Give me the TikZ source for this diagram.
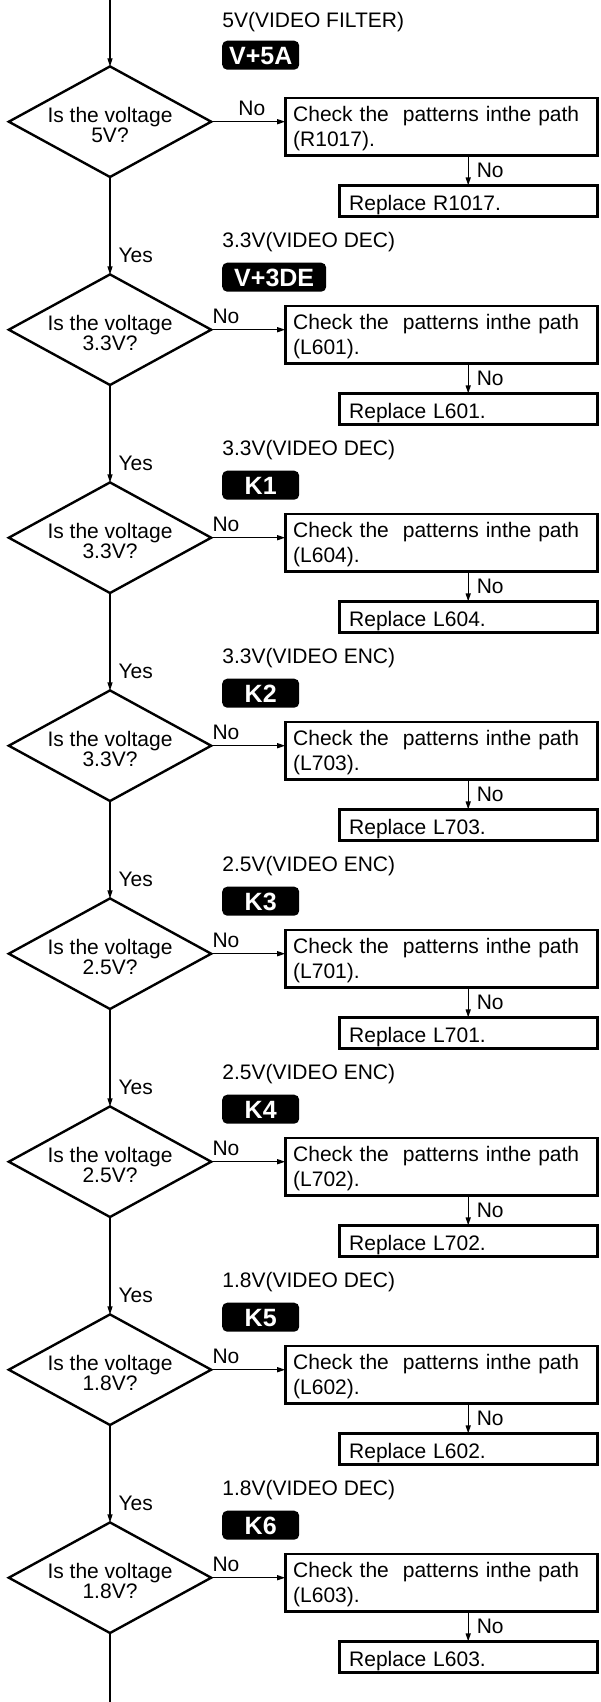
\documentclass[tikz,border=0pt]{standalone}
\usepackage{fontspec}
\setmainfont{Liberation Sans}
\usetikzlibrary{shapes.geometric, arrows.meta, positioning}

\begin{document}
\begin{tikzpicture}[
    x=1pt, y=1pt,
    node distance=97.4pt and 74pt,
    decision/.style={
      diamond,
      aspect=1.83,
      draw=black,
      line width=2.4pt,
      inner xsep=-10pt,
      inner ysep=0pt,
      outer sep=0pt,
      minimum width=202.4pt,
      minimum height=110.6pt,
      align=center,
      text height=42pt,
      font=\fontsize{21pt}{20pt}\selectfont
    },
    check/.style={
      rectangle,
      draw=black,
      line width=2.6pt,
      outer sep=0pt,
      inner xsep=8pt,
      inner ysep=4.3pt,
      text width=296pt,
      text height=18.7pt,
      minimum height=57.4pt,
      align=left,
      font=\fontsize{21pt}{25.7pt}\selectfont
    },
    replace/.style={
      rectangle,
      draw=black,
      line width=2.6pt,
      outer sep=0pt,
      inner xsep=10pt,
      inner ysep=4pt,
      text width=238pt,
      text height=19.6pt,
      text depth=0pt,
      minimum height=31pt,
      align=left,
      font=\fontsize{21pt}{25pt}\selectfont
    },
    badge/.style={
      rectangle,
      fill=black,
      text=white,
      rounded corners=5pt,
      inner sep=0pt,
      outer sep=0pt,
      minimum width=77pt,
      minimum height=29pt,
      text height=18pt,
      text depth=0pt,
      font=\fontsize{25pt}{25pt}\selectfont\bfseries
    },
    volt/.style={
      inner sep=0pt,
      font=\fontsize{21pt}{25pt}\selectfont
    },
    lbl/.style={
      inner xsep=8pt,
      inner ysep=5pt,
      font=\fontsize{21pt}{25pt}\selectfont
    },
    arrow/.style={
      ->,
      >={Stealth[length=8pt,width=5pt,inset=0pt]},
      line width=1.2pt,
      draw=black
    }
  ]

    \useasboundingbox (0,0) rectangle (600,-1702);

    % Check 1: 5V
    \node (dec1) [decision] at (110,-121.7) {Is the voltage\\5V?};
    \node (chk1) [check, right=of dec1, yshift=-5pt] {Check the\ \ patterns inthe path\\(R1017).};
    \node (rep1) [replace, below=30pt of chk1.south east, anchor=north east] {Replace R1017.};
    \node (bdg1) [badge, above right=52pt and 11pt of dec1.east] {V+5A};
    \node (volt1) [volt, above=13pt of bdg1.north west, anchor=base west] {5V(VIDEO FILTER)};

    % Check 2: 3.3V
    \node (dec2) [decision, below=of dec1] {Is the voltage\\3.3V?};
    \node (chk2) [check, right=of dec2, yshift=-5pt] {Check the\ \ patterns inthe path\\(L601).};
    \node (rep2) [replace, below=30pt of chk2.south east, anchor=north east] {Replace L601.};
    \node (bdg2) [badge, minimum width=104pt, above right=38pt and 11pt of dec2.east] {V+3DE};
    \node (volt2) [volt, above=15pt of bdg2.north west, anchor=base west] {3.3V(VIDEO DEC)};

    % Check 3: 3.3V
    \node (dec3) [decision, below=of dec2] {Is the voltage\\3.3V?};
    \node (chk3) [check, right=of dec3, yshift=-5pt] {Check the\ \ patterns inthe path\\(L604).};
    \node (rep3) [replace, below=30pt of chk3.south east, anchor=north east] {Replace L604.};
    \node (bdg3) [badge, above right=38pt and 11pt of dec3.east] {K1};
    \node (volt3) [volt, above=15pt of bdg3.north west, anchor=base west] {3.3V(VIDEO DEC)};

    % Check 4: 3.3V
    \node (dec4) [decision, below=of dec3] {Is the voltage\\3.3V?};
    \node (chk4) [check, right=of dec4, yshift=-5pt] {Check the\ \ patterns inthe path\\(L703).};
    \node (rep4) [replace, below=30pt of chk4.south east, anchor=north east] {Replace L703.};
    \node (bdg4) [badge, above right=38pt and 11pt of dec4.east] {K2};
    \node (volt4) [volt, above=15pt of bdg4.north west, anchor=base west] {3.3V(VIDEO ENC)};

    % Check 5: 2.5V
    \node (dec5) [decision, below=of dec4] {Is the voltage\\2.5V?};
    \node (chk5) [check, right=of dec5, yshift=-5pt] {Check the\ \ patterns inthe path\\(L701).};
    \node (rep5) [replace, below=30pt of chk5.south east, anchor=north east] {Replace L701.};
    \node (bdg5) [badge, above right=38pt and 11pt of dec5.east] {K3};
    \node (volt5) [volt, above=15pt of bdg5.north west, anchor=base west] {2.5V(VIDEO ENC)};

    % Check 6: 2.5V
    \node (dec6) [decision, below=of dec5] {Is the voltage\\2.5V?};
    \node (chk6) [check, right=of dec6, yshift=-5pt] {Check the\ \ patterns inthe path\\(L702).};
    \node (rep6) [replace, below=30pt of chk6.south east, anchor=north east] {Replace L702.};
    \node (bdg6) [badge, above right=38pt and 11pt of dec6.east] {K4};
    \node (volt6) [volt, above=15pt of bdg6.north west, anchor=base west] {2.5V(VIDEO ENC)};

    % Check 7: 1.8V
    \node (dec7) [decision, below=of dec6] {Is the voltage\\1.8V?};
    \node (chk7) [check, right=of dec7, yshift=-5pt] {Check the\ \ patterns inthe path\\(L602).};
    \node (rep7) [replace, below=30pt of chk7.south east, anchor=north east] {Replace L602.};
    \node (bdg7) [badge, above right=38pt and 11pt of dec7.east] {K5};
    \node (volt7) [volt, above=15pt of bdg7.north west, anchor=base west] {1.8V(VIDEO DEC)};

    % Check 8: 1.8V
    \node (dec8) [decision, below=of dec7] {Is the voltage\\1.8V?};
    \node (chk8) [check, right=of dec8, yshift=-5pt] {Check the\ \ patterns inthe path\\(L603).};
    \node (rep8) [replace, below=30pt of chk8.south east, anchor=north east] {Replace L603.};
    \node (bdg8) [badge, above right=38pt and 11pt of dec8.east] {K6};
    \node (volt8) [volt, above=15pt of bdg8.north west, anchor=base west] {1.8V(VIDEO DEC)};

    % Free ends of the main line
    \coordinate (top) at (110,0);
    \coordinate (bottom) at (110,-1702);

    % Connections
    \draw [arrow] (top) -- (dec1.north);
    \draw [arrow] (dec1.east) -- (dec1.east -| chk1.west) node (no1) [lbl, above, pos=0.55] {No};
    \draw [arrow] (chk1.south -| rep1.north) -- (rep1.north) node (nr1) [lbl, right, midway] {No};
    \draw [arrow] (dec1.south) -- (dec2.north) node (yes1) [lbl, right, pos=0.8] {Yes};

    \draw [arrow] (dec2.east) -- (dec2.east -| chk2.west) node (no2) [lbl, above, pos=0.2] {No};
    \draw [arrow] (chk2.south -| rep2.north) -- (rep2.north) node (nr2) [lbl, right, midway] {No};
    \draw [arrow] (dec2.south) -- (dec3.north) node (yes2) [lbl, right, pos=0.8] {Yes};

    \draw [arrow] (dec3.east) -- (dec3.east -| chk3.west) node (no3) [lbl, above, pos=0.2] {No};
    \draw [arrow] (chk3.south -| rep3.north) -- (rep3.north) node (nr3) [lbl, right, midway] {No};
    \draw [arrow] (dec3.south) -- (dec4.north) node (yes3) [lbl, right, pos=0.8] {Yes};

    \draw [arrow] (dec4.east) -- (dec4.east -| chk4.west) node (no4) [lbl, above, pos=0.2] {No};
    \draw [arrow] (chk4.south -| rep4.north) -- (rep4.north) node (nr4) [lbl, right, midway] {No};
    \draw [arrow] (dec4.south) -- (dec5.north) node (yes4) [lbl, right, pos=0.8] {Yes};

    \draw [arrow] (dec5.east) -- (dec5.east -| chk5.west) node (no5) [lbl, above, pos=0.2] {No};
    \draw [arrow] (chk5.south -| rep5.north) -- (rep5.north) node (nr5) [lbl, right, midway] {No};
    \draw [arrow] (dec5.south) -- (dec6.north) node (yes5) [lbl, right, pos=0.8] {Yes};

    \draw [arrow] (dec6.east) -- (dec6.east -| chk6.west) node (no6) [lbl, above, pos=0.2] {No};
    \draw [arrow] (chk6.south -| rep6.north) -- (rep6.north) node (nr6) [lbl, right, midway] {No};
    \draw [arrow] (dec6.south) -- (dec7.north) node (yes6) [lbl, right, pos=0.8] {Yes};

    \draw [arrow] (dec7.east) -- (dec7.east -| chk7.west) node (no7) [lbl, above, pos=0.2] {No};
    \draw [arrow] (chk7.south -| rep7.north) -- (rep7.north) node (nr7) [lbl, right, midway] {No};
    \draw [arrow] (dec7.south) -- (dec8.north) node (yes7) [lbl, right, pos=0.8] {Yes};

    \draw [arrow] (dec8.east) -- (dec8.east -| chk8.west) node (no8) [lbl, above, pos=0.2] {No};
    \draw [arrow] (chk8.south -| rep8.north) -- (rep8.north) node (nr8) [lbl, right, midway] {No};
    \draw [line width=1.2pt] (dec8.south) -- (bottom);

  \end{tikzpicture}
\end{document}
